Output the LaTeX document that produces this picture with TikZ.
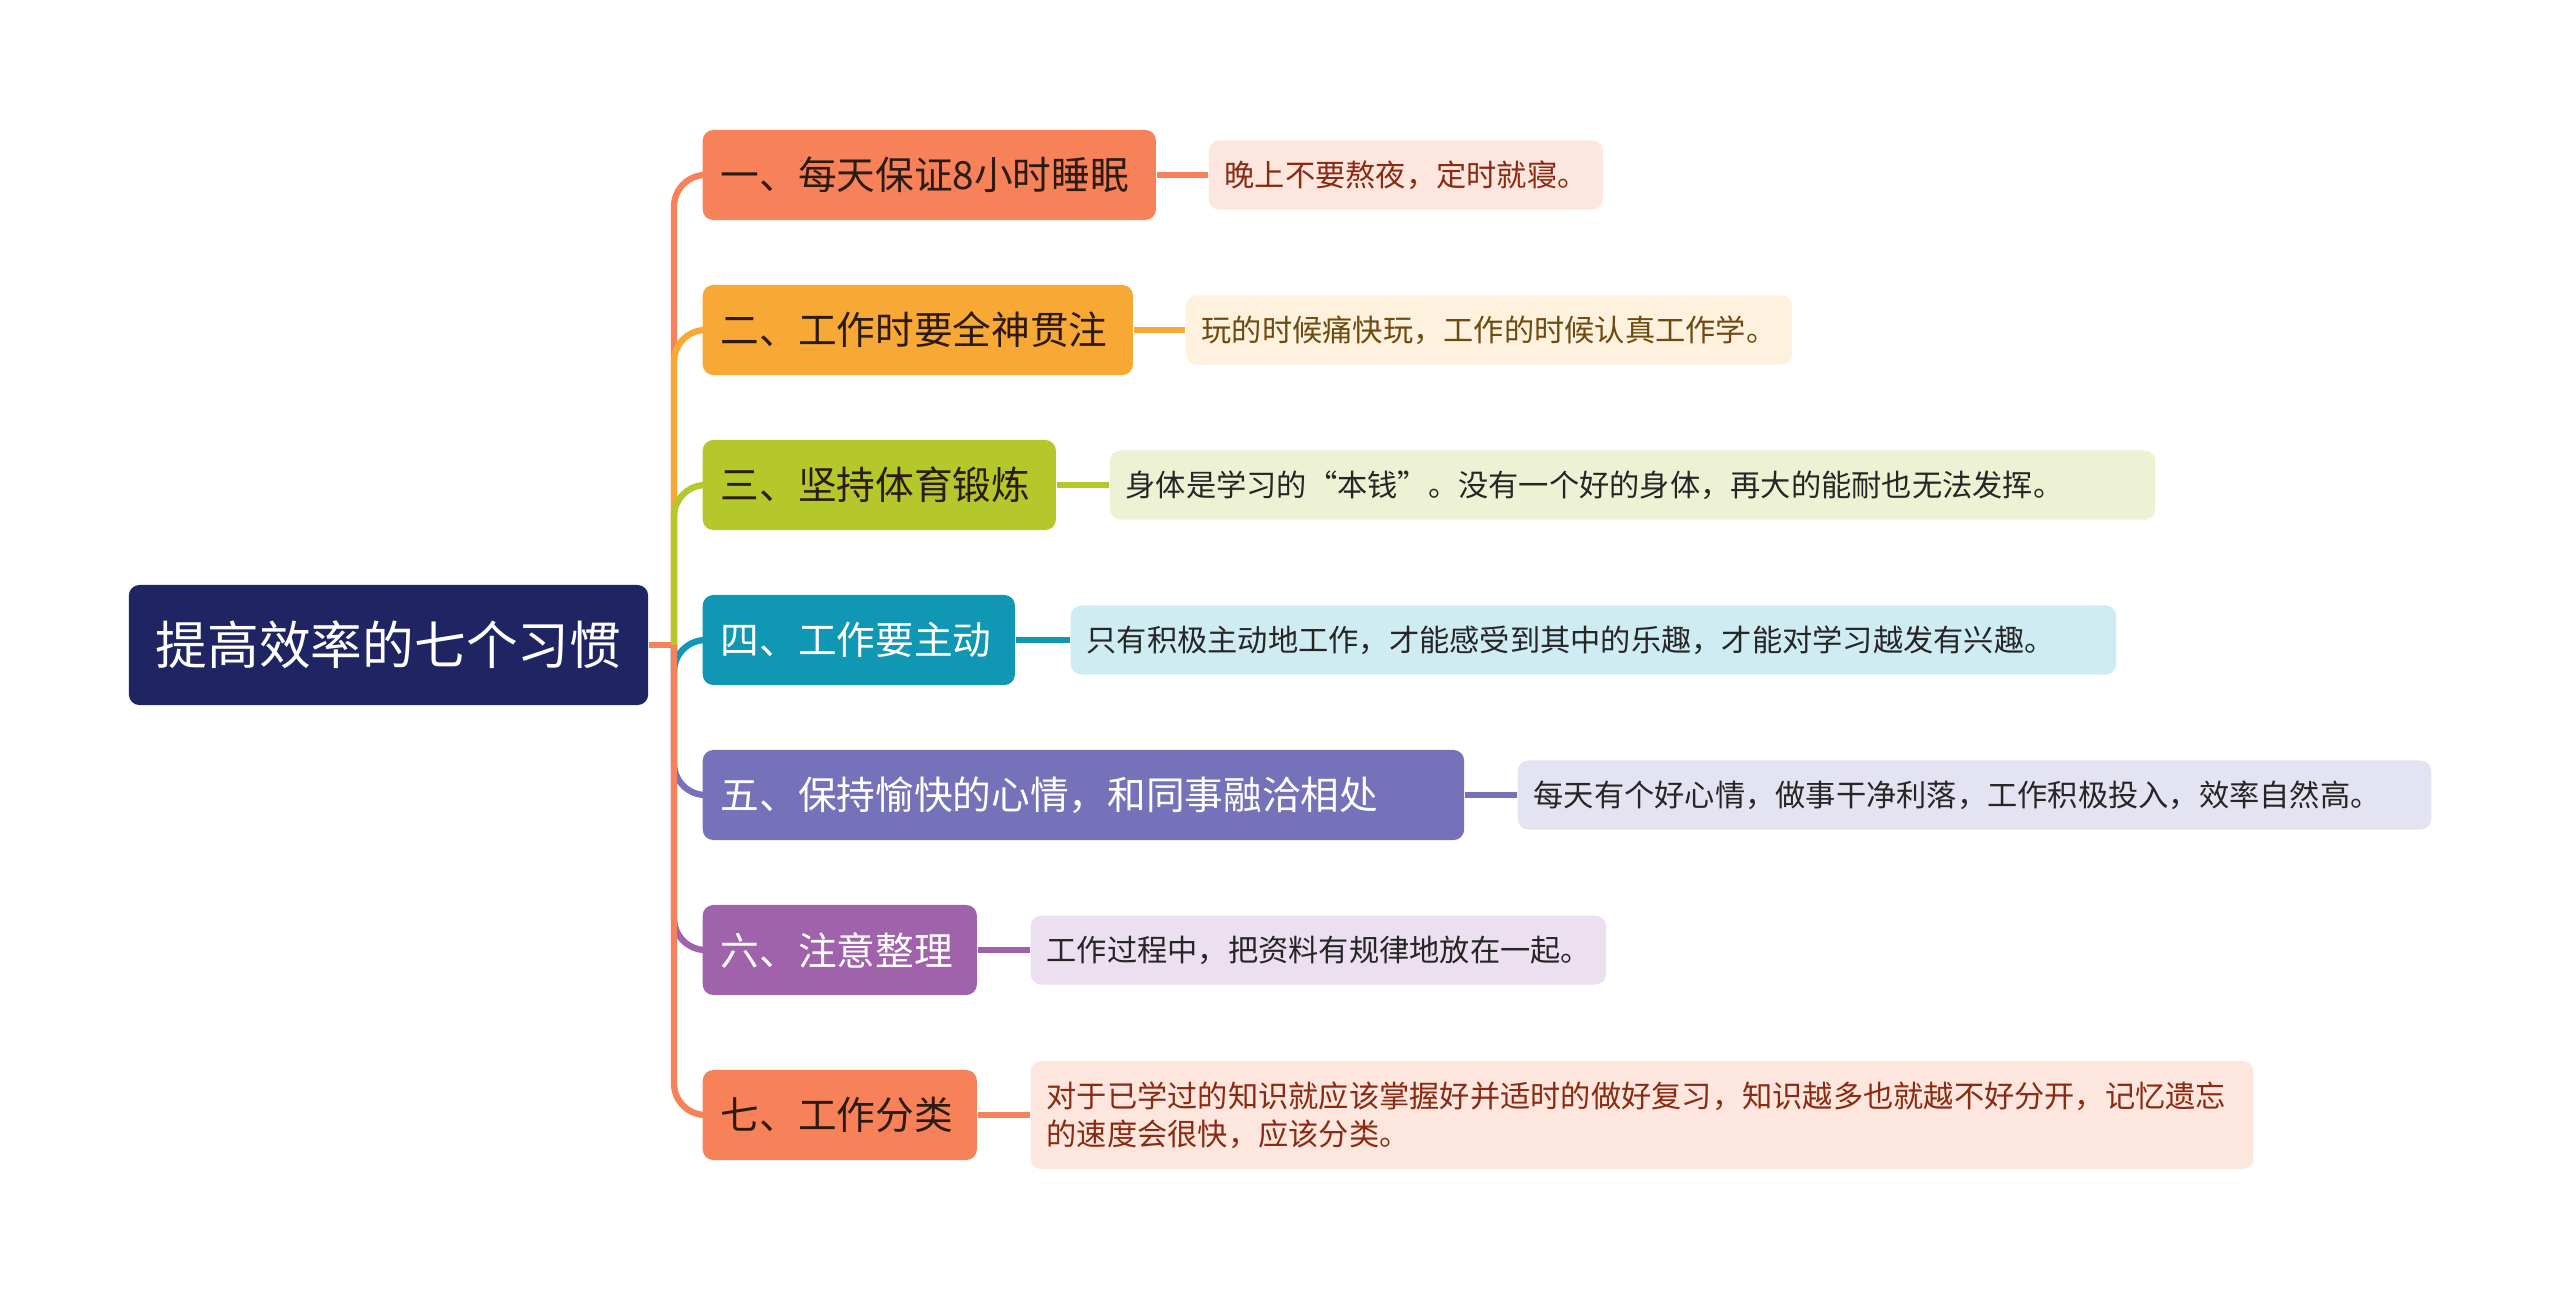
\documentclass[tikz,border=0pt]{standalone}
\usepackage{fontspec}
\setmainfont{Noto Sans CJK SC}
\usepackage{tikz}
\usetikzlibrary{positioning, calc}
\usepackage{xcolor}
\definecolor{topicnavy}{HTML}{1F2563}
\definecolor{habsalmon}{HTML}{F7825A}
\definecolor{habamber}{HTML}{F8A935}
\definecolor{habolive}{HTML}{B4C82B}
\definecolor{habteal}{HTML}{0F97B3}
\definecolor{habiris}{HTML}{7672BA}
\definecolor{habplum}{HTML}{A062AA}
\definecolor{notesalmon}{HTML}{FDE6DD}
\definecolor{noteamber}{HTML}{FEF1DD}
\definecolor{noteolive}{HTML}{EEF2D4}
\definecolor{noteteal}{HTML}{CFECF3}
\definecolor{noteiris}{HTML}{E4E3F1}
\definecolor{noteplum}{HTML}{ECDFF0}
\definecolor{inkdark}{HTML}{2B1B12}
\definecolor{inkrust}{HTML}{8A2A12}
\definecolor{inkbrown}{HTML}{6E4A10}

\begin{document}
\begin{tikzpicture}[
    x=0.01cm, y=-0.01cm,
    topic/.style={fill=topicnavy, rounded corners=3pt, text=white,
                  minimum width=5.19cm, minimum height=1.2cm,
                  font=\fontsize{14.7pt}{17pt}\selectfont},
    habit/.style={rounded corners=3pt, anchor=west, align=left,
                  inner xsep=0.18cm, minimum height=0.9cm,
                  font=\fontsize{11pt}{13pt}\selectfont},
    note/.style={rounded corners=3pt, anchor=west, align=left,
                 inner xsep=0.16cm, minimum height=0.69cm,
                 font=\fontsize{8.6pt}{10.7pt}\selectfont},
    link/.style={line width=1.8pt, rounded corners=9pt}
  ]
    \useasboundingbox (0,0) rectangle (2560,1299);

    % Centre
    \node[topic] (root) at (388.5, 645) {提高效率的七个习惯};
    \coordinate (hub) at (674, 645);

    % Habits
    \node[habit, fill=habsalmon, text=inkdark, text width=4.17cm] (h1) at (702, 175)
      {一、每天保证8小时睡眠};
    \node[habit, fill=habamber, text=inkdark, text width=3.94cm] (h2) at (702, 330)
      {二、工作时要全神贯注};
    \node[habit, fill=habolive, text=inkdark, text width=3.17cm] (h3) at (702, 485)
      {三、坚持体育锻炼};
    \node[habit, fill=habteal, text=white, text width=2.76cm] (h4) at (702, 640)
      {四、工作要主动};
    \node[habit, fill=habiris, text=white, text width=7.25cm] (h5) at (702, 795)
      {五、保持愉快的心情，和同事融洽相处};
    \node[habit, fill=habplum, text=white, text width=2.38cm] (h6) at (702, 950)
      {六、注意整理};
    \node[habit, fill=habsalmon, text=inkdark, text width=2.38cm] (h7) at (702, 1115)
      {七、工作分类};

    % Notes
    \node[note, fill=notesalmon, text=inkrust, text width=3.62cm] (n1) at (1208, 175)
      {晚上不要熬夜，定时就寝。};
    \node[note, fill=noteamber, text=inkbrown, text width=5.74cm] (n2) at (1185, 330)
      {玩的时候痛快玩，工作的时候认真工作学。};
    \node[note, fill=noteolive, text=black!85, text width=10.13cm] (n3) at (1109, 485)
      {身体是学习的“本钱”。没有一个好的身体，再大的能耐也无法发挥。};
    \node[note, fill=noteteal, text=black!85, text width=10.13cm] (n4) at (1070, 640)
      {只有积极主动地工作，才能感受到其中的乐趣，才能对学习越发有兴趣。};
    \node[note, fill=noteiris, text=black!85, text width=8.81cm] (n5) at (1517, 795)
      {每天有个好心情，做事干净利落，工作积极投入，效率自然高。};
    \node[note, fill=noteplum, text=black!85, text width=5.43cm] (n6) at (1030, 950)
      {工作过程中，把资料有规律地放在一起。};
    \node[note, fill=notesalmon, text=inkrust, text width=11.9cm,
          minimum height=1.08cm] (n7) at (1030, 1115)
      {对于已学过的知识就应该掌握好并适时的做好复习，知识越多也就越不好分开，记忆遗忘\\的速度会很快，应该分类。};

    % Spine
    \draw[link, habsalmon] (root.east) -- (hub);
    \draw[link, habsalmon] (hub) |- (h1.west);
    \draw[link, habamber] (hub) |- (h2.west);
    \draw[link, habolive] (hub) |- (h3.west);
    \draw[link, habteal] (hub) |- (h4.west);
    \draw[link, habiris] (hub) |- (h5.west);
    \draw[link, habplum] (hub) |- (h6.west);
    \draw[link, habsalmon] (hub) |- (h7.west);

    % Details
    \draw[link, habsalmon] (h1) -- (n1);
    \draw[link, habamber] (h2) -- (n2);
    \draw[link, habolive] (h3) -- (n3);
    \draw[link, habteal] (h4) -- (n4);
    \draw[link, habiris] (h5) -- (n5);
    \draw[link, habplum] (h6) -- (n6);
    \draw[link, habsalmon] (h7) -- (n7);
  \end{tikzpicture}
\end{document}
